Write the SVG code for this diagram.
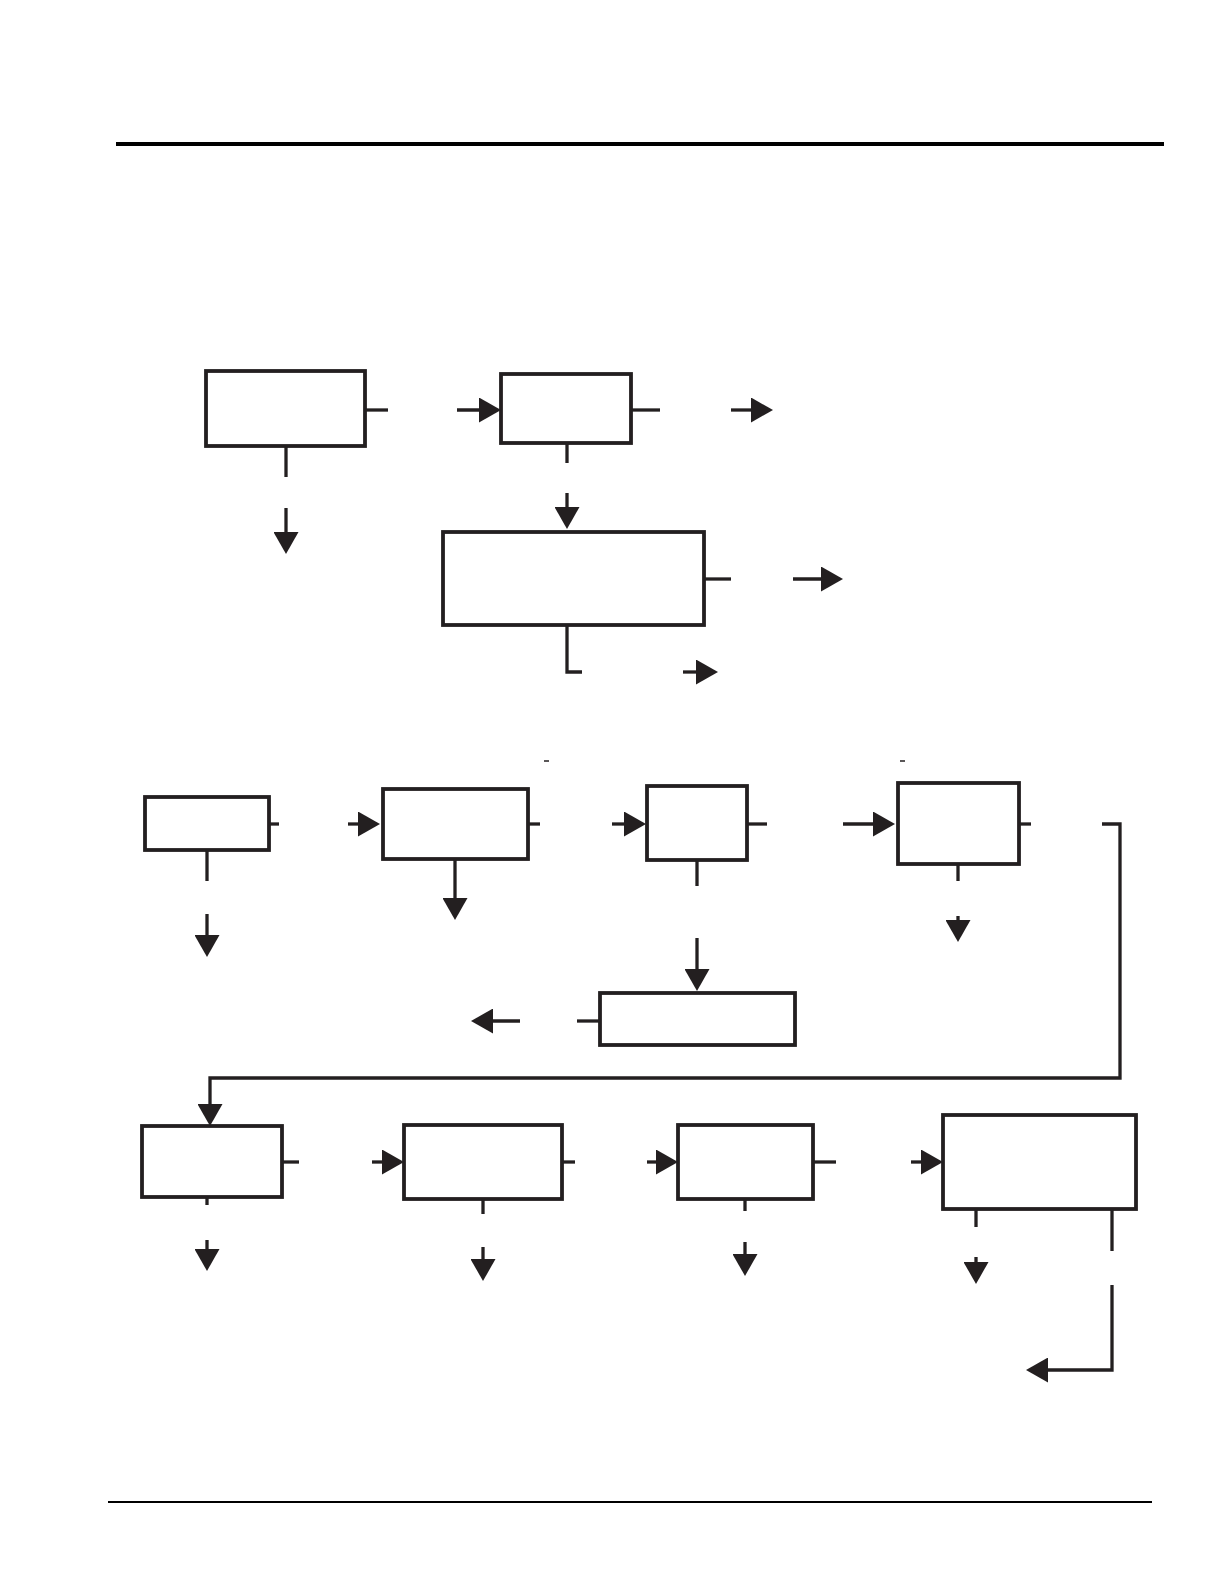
<svg xmlns="http://www.w3.org/2000/svg" width="1224" height="1584" viewBox="0 0 1224 1584">
<style>
.box{fill:#fff;stroke:#231f20;stroke-width:3.8}
.c{fill:none;stroke:#231f20;stroke-width:3.3}
.a{fill:none;stroke:#231f20;stroke-width:3.3;marker-end:url(#ah)}
.rule{stroke:#000}
</style>
<defs>
<marker id="ah" markerUnits="userSpaceOnUse" markerWidth="23" markerHeight="25" viewBox="0 0 22 25" refX="11" refY="12.5" orient="auto">
<path d="M0,0 L22,12.5 L0,25 z" fill="#231f20"/>
</marker>
</defs>
<rect width="1224" height="1584" fill="#fff"/>
<line class="rule" x1="116" y1="144" x2="1164" y2="144" stroke-width="4"/>
<line class="rule" x1="108" y1="1502" x2="1152" y2="1502" stroke-width="2"/>

<g id="nodeA"><rect class="box" x="206" y="371" width="159" height="75"/></g>
<g id="nodeB"><rect class="box" x="501" y="374" width="130" height="69"/></g>
<g id="nodeC"><rect class="box" x="443" y="532" width="261" height="93"/></g>
<g id="nodeD"><rect class="box" x="145" y="797" width="124" height="53"/></g>
<g id="nodeE"><rect class="box" x="383" y="789" width="145" height="70"/></g>
<g id="nodeF"><rect class="box" x="647" y="786" width="100" height="74"/></g>
<g id="nodeG"><rect class="box" x="600" y="993" width="195" height="52"/></g>
<g id="nodeH"><rect class="box" x="898" y="783" width="121" height="81"/></g>
<g id="nodeI"><rect class="box" x="142" y="1126" width="140" height="71"/></g>
<g id="nodeJ"><rect class="box" x="404" y="1125" width="158" height="74"/></g>
<g id="nodeK"><rect class="box" x="678" y="1125" width="135" height="74"/></g>
<g id="nodeL"><rect class="box" x="943" y="1115" width="193" height="94"/></g>

<g id="connectors">
<line class="c" x1="365" y1="410" x2="388" y2="410"/>
<line class="a" x1="457" y1="410" x2="490" y2="410"/>
<line class="c" x1="631" y1="410" x2="660" y2="410"/>
<line class="a" x1="731" y1="410" x2="762" y2="410"/>
<line class="c" x1="286" y1="446" x2="286" y2="477"/>
<line class="a" x1="286" y1="508" x2="286" y2="543"/>
<line class="c" x1="567" y1="443" x2="567" y2="463"/>
<line class="a" x1="567" y1="493" x2="567" y2="518"/>
<line class="c" x1="704" y1="579" x2="731" y2="579"/>
<line class="a" x1="793" y1="579" x2="832" y2="579"/>
<polyline class="c" points="567,625 567,672 582,672"/>
<line class="a" x1="683" y1="672" x2="707" y2="672"/>
<line class="c" x1="269" y1="824" x2="279" y2="824"/>
<line class="a" x1="348" y1="824" x2="369" y2="824"/>
<line class="c" x1="528" y1="824" x2="540" y2="824"/>
<line class="a" x1="612" y1="824" x2="635" y2="824"/>
<line class="c" x1="747" y1="824" x2="767" y2="824"/>
<line class="a" x1="843" y1="824" x2="884" y2="824"/>
<line class="c" x1="1019" y1="824" x2="1031" y2="824"/>
<polyline class="a" points="1102,824 1120,824 1120,1078 210,1078 210,1115"/>
<line class="c" x1="207" y1="850" x2="207" y2="881"/>
<line class="a" x1="207" y1="914" x2="207" y2="946"/>
<line class="a" x1="455" y1="859" x2="455" y2="909"/>
<line class="c" x1="697" y1="860" x2="697" y2="886"/>
<line class="a" x1="697" y1="938" x2="697" y2="980"/>
<line class="c" x1="577" y1="1021" x2="600" y2="1021"/>
<line class="a" x1="520" y1="1021" x2="482" y2="1021"/>
<line class="c" x1="958" y1="864" x2="958" y2="881"/>
<line class="a" x1="958" y1="916" x2="958" y2="931"/>
<line class="c" x1="282" y1="1162" x2="299" y2="1162"/>
<line class="a" x1="372" y1="1162" x2="393" y2="1162"/>
<line class="c" x1="562" y1="1162" x2="575" y2="1162"/>
<line class="a" x1="647" y1="1162" x2="667" y2="1162"/>
<line class="c" x1="813" y1="1162" x2="836" y2="1162"/>
<line class="a" x1="911" y1="1162" x2="932" y2="1162"/>
<line class="c" x1="207" y1="1197" x2="207" y2="1205"/>
<line class="a" x1="207" y1="1240" x2="207" y2="1260"/>
<line class="c" x1="483" y1="1199" x2="483" y2="1214"/>
<line class="a" x1="483" y1="1247" x2="483" y2="1270"/>
<line class="c" x1="745" y1="1199" x2="745" y2="1211"/>
<line class="a" x1="745" y1="1242" x2="745" y2="1265"/>
<line class="c" x1="976" y1="1209" x2="976" y2="1227"/>
<line class="a" x1="976" y1="1257" x2="976" y2="1273"/>
<line class="c" x1="1112" y1="1209" x2="1112" y2="1251"/>
<polyline class="a" points="1112,1285 1112,1370 1037,1370"/>
</g>

<g id="marks">
<line x1="544" y1="761" x2="549" y2="761" stroke="#231f20" stroke-width="1.5"/>
<line x1="900" y1="761" x2="905" y2="761" stroke="#231f20" stroke-width="1.5"/>
</g>
</svg>
